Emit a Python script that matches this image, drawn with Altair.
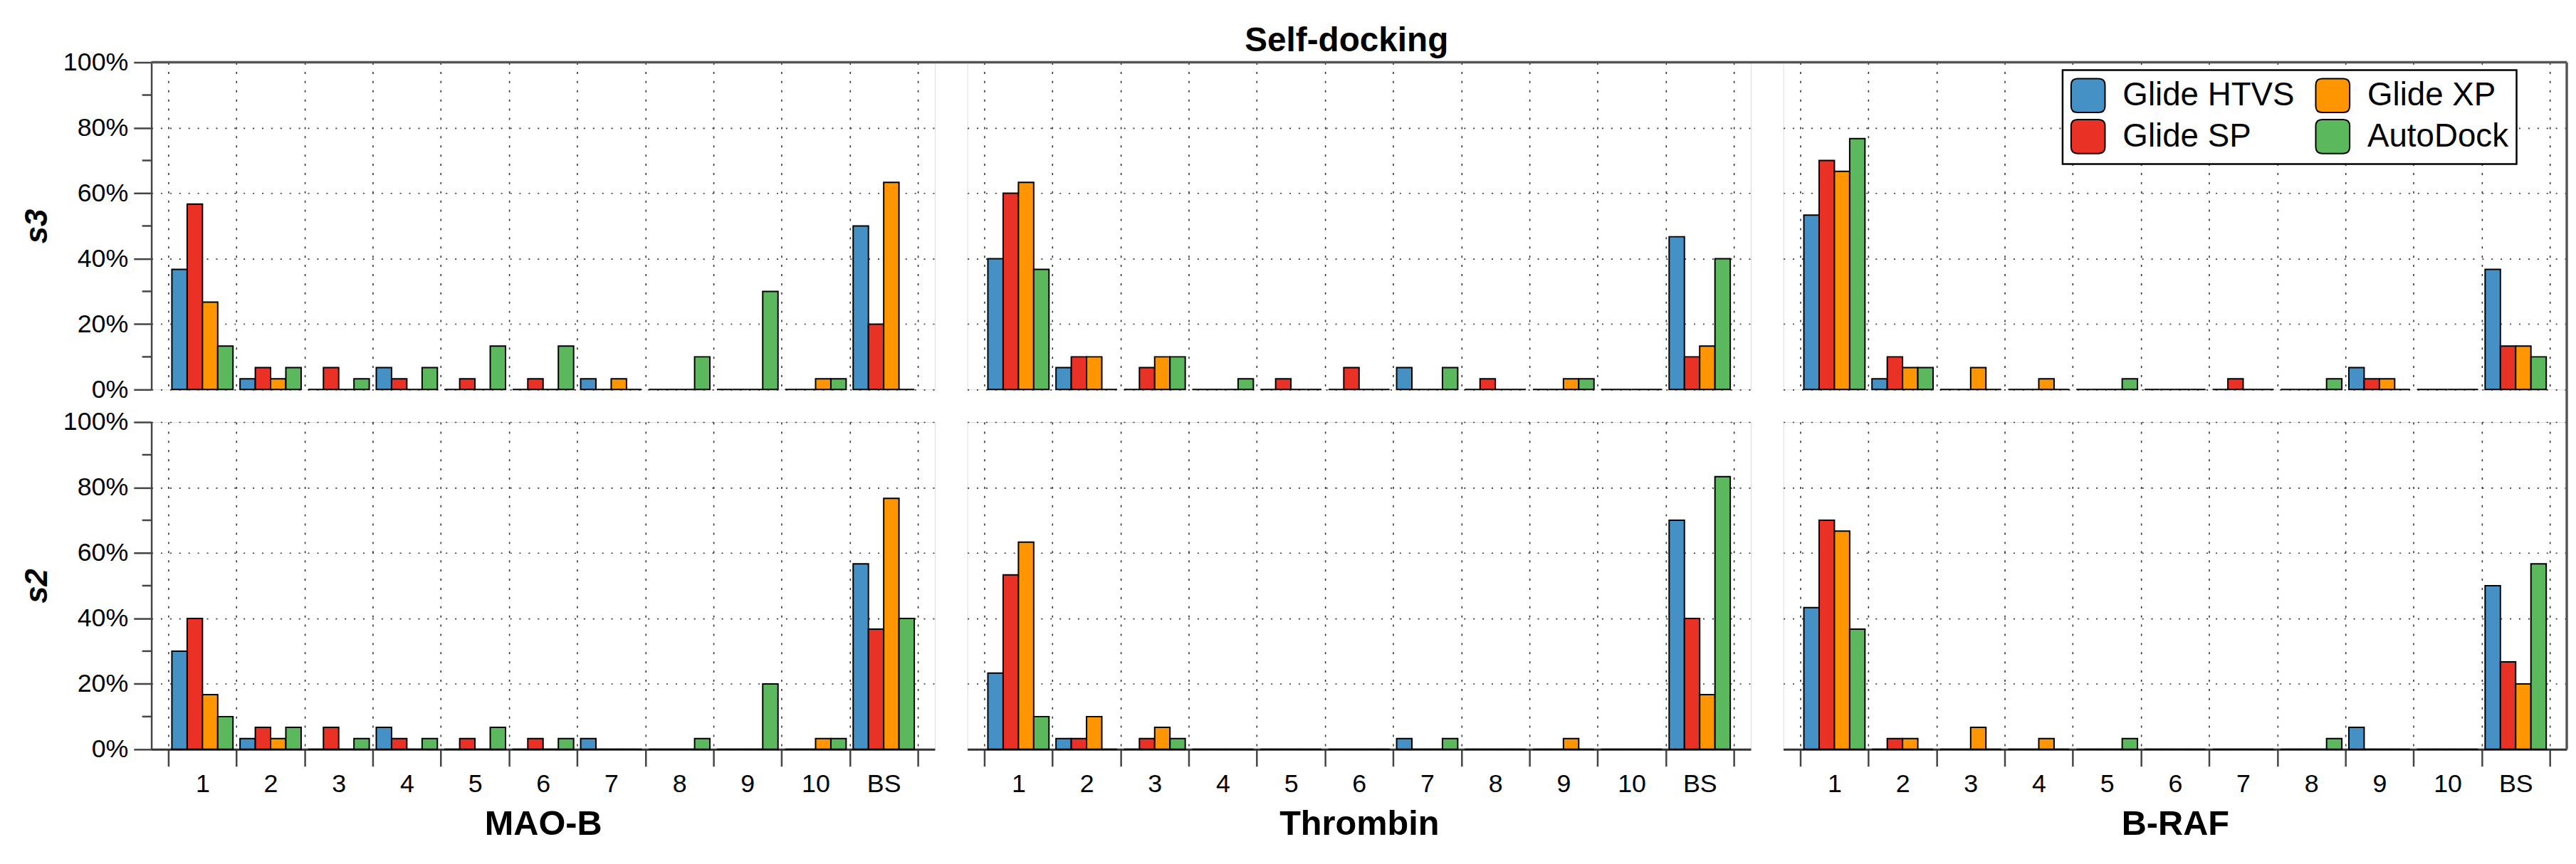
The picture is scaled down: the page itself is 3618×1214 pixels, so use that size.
import altair as alt
import pandas as pd

CATEGORIES = ["1", "2", "3", "4", "5", "6", "7", "8", "9", "10", "BS"]
METHODS = ["Glide HTVS", "Glide SP", "Glide XP", "AutoDock"]
COLORS = ["#4590c4", "#ea3125", "#ff9500", "#5cb85c"]
TARGETS = ["MAO-B", "Thrombin", "B-RAF"]
ROWS = ["s3", "s2"]

MAOB_S3 = {
    "Glide HTVS": [36.7, 3.3, 0, 6.7, 0, 0, 3.3, 0, 0, 0, 50.0],
    "Glide SP":   [56.7, 6.7, 6.7, 3.3, 3.3, 3.3, 0, 0, 0, 0, 20.0],
    "Glide XP":   [26.7, 3.3, 0, 0, 0, 0, 3.3, 0, 0, 3.3, 63.3],
    "AutoDock":   [13.3, 6.7, 3.3, 6.7, 13.3, 13.3, 0, 10.0, 30.0, 3.3, 0],
}
MAOB_S2 = {
    "Glide HTVS": [30.0, 3.3, 0, 6.7, 0, 0, 3.3, 0, 0, 0, 56.7],
    "Glide SP":   [40.0, 6.7, 6.7, 3.3, 3.3, 3.3, 0, 0, 0, 0, 36.7],
    "Glide XP":   [16.7, 3.3, 0, 0, 0, 0, 0, 0, 0, 3.3, 76.7],
    "AutoDock":   [10.0, 6.7, 3.3, 3.3, 6.7, 3.3, 0, 3.3, 20.0, 3.3, 40.0],
}
THROMBIN_S3 = {
    "Glide HTVS": [40.0, 6.7, 0, 0, 0, 0, 6.7, 0, 0, 0, 46.7],
    "Glide SP":   [60.0, 10.0, 6.7, 0, 3.3, 6.7, 0, 3.3, 0, 0, 10.0],
    "Glide XP":   [63.3, 10.0, 10.0, 0, 0, 0, 0, 0, 3.3, 0, 13.3],
    "AutoDock":   [36.7, 0, 10.0, 3.3, 0, 0, 6.7, 0, 3.3, 0, 40.0],
}
THROMBIN_S2 = {
    "Glide HTVS": [23.3, 3.3, 0, 0, 0, 0, 3.3, 0, 0, 0, 70.0],
    "Glide SP":   [53.3, 3.3, 3.3, 0, 0, 0, 0, 0, 0, 0, 40.0],
    "Glide XP":   [63.3, 10.0, 6.7, 0, 0, 0, 0, 0, 3.3, 0, 16.7],
    "AutoDock":   [10.0, 0, 3.3, 0, 0, 0, 3.3, 0, 0, 0, 83.3],
}
BRAF_S3 = {
    "Glide HTVS": [53.3, 3.3, 0, 0, 0, 0, 0, 0, 6.7, 0, 36.7],
    "Glide SP":   [70.0, 10.0, 0, 0, 0, 0, 3.3, 0, 3.3, 0, 13.3],
    "Glide XP":   [66.7, 6.7, 6.7, 3.3, 0, 0, 0, 0, 3.3, 0, 13.3],
    "AutoDock":   [76.7, 6.7, 0, 0, 3.3, 0, 0, 3.3, 0, 0, 10.0],
}
BRAF_S2 = {
    "Glide HTVS": [43.3, 0, 0, 0, 0, 0, 0, 0, 6.7, 0, 50.0],
    "Glide SP":   [70.0, 3.3, 0, 0, 0, 0, 0, 0, 0, 0, 26.7],
    "Glide XP":   [66.7, 3.3, 6.7, 3.3, 0, 0, 0, 0, 0, 0, 20.0],
    "AutoDock":   [36.7, 0, 0, 0, 3.3, 0, 0, 3.3, 0, 0, 56.7],
}

DATA = {
    ("MAO-B", "s3"): MAOB_S3, ("MAO-B", "s2"): MAOB_S2,
    ("Thrombin", "s3"): THROMBIN_S3, ("Thrombin", "s2"): THROMBIN_S2,
    ("B-RAF", "s3"): BRAF_S3, ("B-RAF", "s2"): BRAF_S2,
}

Y_TICKS = [0, 20, 40, 60, 80, 100]
Y_MINOR = [10, 30, 50, 70, 90]

W, H, GAP = 1108, 463, 46
FONT = "Liberation Sans"
AXC = "#444444"
GRIDC = "#333333"
ROUNDED = ("M -0.62 -1 L 0.62 -1 Q 1 -1 1 -0.62 L 1 0.62 Q 1 1 0.62 1 "
           "L -0.62 1 Q -1 1 -1 0.62 L -1 -0.62 Q -1 -1 -0.62 -1 Z")


def long_df(d):
    return pd.DataFrame([
        {"cat": c, "method": m, "value": v}
        for m in METHODS for c, v in zip(CATEGORIES, d[m])
    ])


def panel(target, row, ci, ri):
    df = long_df(DATA[(target, row)])
    if ci == 0:
        yaxis = alt.Axis(values=Y_TICKS, format="d", labelExpr="datum.label + '%'", title=row,
                         titleFontStyle="italic", titleFontWeight="bold", titleFontSize=44,
                         titlePadding=14, titleColor="black",
                         tickSize=25, tickWidth=2.5, tickColor=AXC, domainColor=AXC,
                         domainWidth=2.5, labelFontSize=36, labelPadding=8, labelColor="black",
                         grid=True, gridDash=[2, 11], gridColor=GRIDC, gridWidth=1.6)
    else:
        yaxis = alt.Axis(values=Y_TICKS, labels=False, ticks=False, domain=False, title=None,
                         grid=True, gridDash=[2, 11], gridColor=GRIDC, gridWidth=1.6)
    if ri == 1:
        xaxis = alt.Axis(title=target, titleFontSize=49, titleFontWeight="bold", titlePadding=14,
                         titleColor="black",
                         labelAngle=0, labelFontSize=36, labelPadding=8, labelColor="black",
                         tickSize=24, tickWidth=2.5, tickColor=AXC, tickBand="extent",
                         domainColor=GRIDC, domainWidth=3,
                         grid=True, gridDash=[3, 10], gridColor=GRIDC, gridWidth=1.6)
    else:
        xaxis = alt.Axis(title=None, labels=False, ticks=False, domain=False, tickBand="extent",
                         grid=True, gridDash=[3, 10], gridColor=GRIDC, gridWidth=1.6)

    if ci == 2 and ri == 0:
        legend = alt.Legend(title=None, orient="none", legendX=395, legendY=11, columns=2,
                            gridAlign="all",
                            symbolType=ROUNDED, symbolSize=2304, symbolStrokeColor="black",
                            symbolStrokeWidth=2, symbolOpacity=1, labelFontSize=46,
                            labelFont=FONT, labelLimit=500, labelOffset=24, columnPadding=26,
                            rowPadding=2, padding=11, strokeColor="black", fillColor="white")
    else:
        legend = None

    yscale = alt.Scale(domain=[0, 100], nice=False)
    bars = alt.Chart(df).mark_bar(stroke="black", strokeWidth=2, opacity=1).encode(
        x=alt.X("cat:N", sort=CATEGORIES,
                scale=alt.Scale(paddingInner=0, paddingOuter=0.25), axis=xaxis),
        xOffset=alt.XOffset("method:N", sort=METHODS,
                            scale=alt.Scale(paddingInner=0, paddingOuter=0.23)),
        y=alt.Y("value:Q", scale=yscale, axis=yaxis),
        color=alt.Color("method:N", scale=alt.Scale(domain=METHODS, range=COLORS),
                        legend=legend),
    )
    layers = [bars]
    if ri == 0:
        layers.append(
            alt.Chart(pd.DataFrame({"v": [100]})).mark_rule(color="#555555", strokeWidth=3.5).encode(
                y=alt.value(0),
                x=alt.value(0 if ci == 0 else -GAP), x2=alt.value(W)))
    if ci == 0:
        layers.append(
            alt.Chart(pd.DataFrame({"value": Y_MINOR})).mark_rule(color=AXC, strokeWidth=2.5).encode(
                y=alt.Y("value:Q", scale=yscale, axis=yaxis), x=alt.value(-13), x2=alt.value(0)))
    if ci == 2:
        layers.append(
            alt.Chart(pd.DataFrame({"v": [0]})).mark_rule(color="#555555", strokeWidth=3.5).encode(
                x=alt.value(W), y=alt.value(0 if ri == 0 else -GAP), y2=alt.value(H)))
    return alt.layer(*layers).properties(width=W, height=H).resolve_legend(color="independent")


panels = [panel(t, row, ci, ri) for ri, row in enumerate(ROWS) for ci, t in enumerate(TARGETS)]

chart = alt.concat(*panels, columns=3, spacing=GAP, bounds="flush").properties(
    title=alt.Title("Self-docking", fontSize=48, fontWeight="bold", anchor="middle",
                    offset=-13, dx=73, font=FONT, color="black"),
    padding={"left": 22, "top": 22, "right": 2, "bottom": 4},
).resolve_legend(color="independent").configure_view(
    stroke="transparent"
).configure(font=FONT).configure_legend(strokeWidth=2.5)

chart.save("out.html", embed_options={"renderer": "svg", "actions": False})
